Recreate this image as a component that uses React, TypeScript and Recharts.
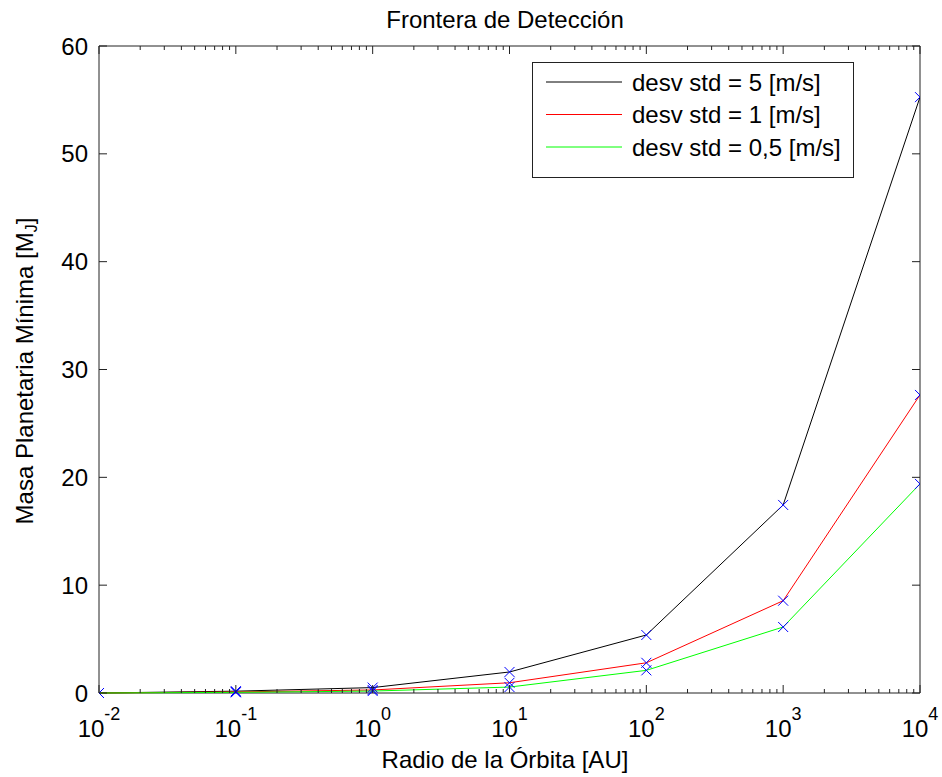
import { LineChart, Line, XAxis, YAxis, ReferenceArea, Legend } from "recharts";

// radio de la órbita [AU] y masa mínima detectable [M_J]
const radius = [0.01, 0.1, 1, 10, 100, 1000, 10000];
const massStd5 = [0, 0.17, 0.5, 1.95, 5.38, 17.44, 55.26];
const massStd1 = [0, 0.1, 0.28, 0.95, 2.8, 8.56, 27.64];
const massStd05 = [0, 0.06, 0.18, 0.55, 2.1, 6.12, 19.39];

const seriesNames = [
  "desv std = 5 [m/s]",
  "desv std = 1 [m/s]",
  "desv std = 0,5 [m/s]",
];
const xMajorTicks = [0.01, 0.1, 1, 10, 100, 1000, 10000];
const xExponents = ["-2", "-1", "0", "1", "2", "3", "4"];
const yTicks = [0, 10, 20, 30, 40, 50, 60];

const data = radius.map((r, i) => ({
  r,
  s5: massStd5[i],
  s1: massStd1[i],
  s05: massStd05[i],
}));

// minor log ticks 2..9 inside each decade
const xMinorTicks: number[] = [];
xMajorTicks.slice(0, -1).forEach((d) => {
  for (let m = 2; m <= 9; m++) xMinorTicks.push(d * m);
});
const xTicks = [...xMajorTicks, ...xMinorTicks].sort((a, b) => a - b);

const W = 942;
const H = 777;
const LEFT = 99;
const TOP = 46;
const RIGHT = 920;
const BOTTOM = 693;
const FONT = "'Liberation Sans', Arial, sans-serif";
const AXIS = "#222";

function XTick(props: any) {
  const { x, payload } = props;
  const idx = xMajorTicks.indexOf(payload.value);
  const len = idx >= 0 ? 8 : 4;
  return (
    <g>
      <line x1={x} x2={x} y1={BOTTOM} y2={BOTTOM - len} stroke={AXIS} />
      <line x1={x} x2={x} y1={TOP} y2={TOP + len} stroke={AXIS} />
      {idx >= 0 && (
        <text x={x} y={737} textAnchor="middle" fontFamily={FONT} fontSize={24} fill="#000">
          <tspan>10</tspan>
          <tspan dy={-17} fontSize={18}>
            {xExponents[idx]}
          </tspan>
        </text>
      )}
    </g>
  );
}

function YTick(props: any) {
  const { y, payload } = props;
  return (
    <g>
      <line x1={LEFT} x2={LEFT + 8} y1={y} y2={y} stroke={AXIS} />
      <line x1={RIGHT} x2={RIGHT - 8} y1={y} y2={y} stroke={AXIS} />
      <text x={88} y={y} dy="0.36em" textAnchor="end" fontFamily={FONT} fontSize={24} fill="#000">
        {payload.value}
      </text>
    </g>
  );
}

function XMark(props: any) {
  const { cx, cy } = props;
  if (cx == null || cy == null) return <g />;
  const s = 5;
  return (
    <path
      d={`M${cx - s},${cy - s}L${cx + s},${cy + s}M${cx - s},${cy + s}L${cx + s},${cy - s}`}
      stroke="#0000ff"
      strokeWidth={1}
      fill="none"
    />
  );
}

function ChartTitle() {
  return (
    <text x={505} y={28} textAnchor="middle" fontFamily={FONT} fontSize={24} fill="#000">
      Frontera de Detección
    </text>
  );
}

function XTitle() {
  return (
    <text x={505} y={768} textAnchor="middle" fontFamily={FONT} fontSize={24} fill="#000">
      Radio de la Órbita [AU]
    </text>
  );
}

function YTitle() {
  return (
    <text
      x={33}
      y={371}
      transform="rotate(-90 33 371)"
      textAnchor="middle"
      fontFamily={FONT}
      fontSize={24}
      fill="#000"
    >
      Masa Planetaria Mínima [M
      <tspan dy={4} fontSize={16}>
        J
      </tspan>
      <tspan dy={-4}>]</tspan>
    </text>
  );
}

function LegendBox(props: any) {
  const items = [...(props.payload || [])].sort(
    (a: any, b: any) => seriesNames.indexOf(a.value) - seriesNames.indexOf(b.value)
  );
  return (
    <svg width={322} height={116} style={{ display: "block" }}>
      <rect x={0.5} y={0.5} width={321} height={115} fill="#fff" stroke={AXIS} />
      {items.map((it: any, i: number) => {
        const cy = 20 + i * 32.5;
        return (
          <g key={it.value}>
            <line x1={14} x2={90} y1={cy} y2={cy} stroke={it.color} />
            <text x={100} y={cy} dy="0.36em" fontFamily={FONT} fontSize={24} fill="#000">
              {it.value}
            </text>
          </g>
        );
      })}
    </svg>
  );
}

export default function App() {
  return (
    <div style={{ position: "absolute", left: 0, top: 0 }}>
      <LineChart
        width={W}
        height={H}
        data={data}
        margin={{ top: TOP, right: W - RIGHT, left: 0, bottom: H - BOTTOM - 60 }}
      >
        <XAxis
          dataKey="r"
          type="number"
          scale="log"
          domain={[0.01, 10000]}
          ticks={xTicks}
          interval={0}
          allowDataOverflow
          height={60}
          axisLine={false}
          tickLine={false}
          tick={(p: any) => <XTick {...p} />}
          label={<XTitle />}
        />
        <YAxis
          type="number"
          domain={[0, 60]}
          ticks={yTicks}
          interval={0}
          width={LEFT}
          axisLine={false}
          tickLine={false}
          tick={(p: any) => <YTick {...p} />}
          label={<YTitle />}
        />
        <ReferenceArea
          x1={0.01}
          x2={10000}
          y1={0}
          y2={60}
          fill="none"
          stroke={AXIS}
          strokeWidth={1}
          ifOverflow="visible"
          label={<ChartTitle />}
        />
        <Legend
          layout="vertical"
          align="center"
          verticalAlign="middle"
          content={(p: any) => <LegendBox {...p} />}
          wrapperStyle={{ top: 62, left: 532, width: 322, height: 116 }}
        />
        <Line
          type="linear"
          dataKey="s5"
          name={seriesNames[0]}
          stroke="#000000"
          strokeWidth={1}
          dot={(p: any) => <XMark key={`a${p.index}`} {...p} />}
          activeDot={false}
          isAnimationActive={false}
        />
        <Line
          type="linear"
          dataKey="s1"
          name={seriesNames[1]}
          stroke="#ff0000"
          strokeWidth={1}
          dot={(p: any) => <XMark key={`b${p.index}`} {...p} />}
          activeDot={false}
          isAnimationActive={false}
        />
        <Line
          type="linear"
          dataKey="s05"
          name={seriesNames[2]}
          stroke="#00ff00"
          strokeWidth={1}
          dot={(p: any) => <XMark key={`c${p.index}`} {...p} />}
          activeDot={false}
          isAnimationActive={false}
        />
      </LineChart>
    </div>
  );
}
